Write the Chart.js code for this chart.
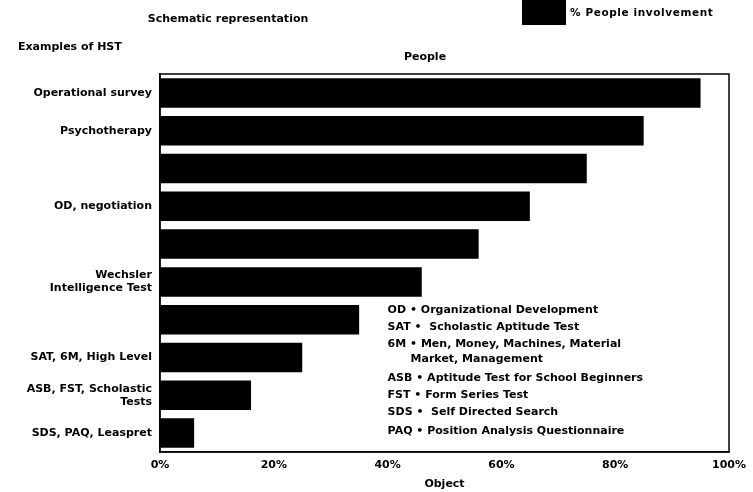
<!DOCTYPE html>
<html>
<head>
<meta charset="utf-8">
<script src="https://cdn.jsdelivr.net/npm/chart.js@4/dist/chart.umd.min.js"></script>
<style>
  html, body { margin: 0; padding: 0; background: #fff; }
  #wrap { width: 753px; height: 492px; position: relative; }
</style>
</head>
<body>
<div id="wrap"><canvas id="c" width="753" height="492"></canvas></div>
<script>
// ---- data ----
const categories = [
  "Operational survey",
  "Psychotherapy",
  "",
  "OD, negotiation",
  "",
  ["Wechsler", "Intelligence Test"],
  "",
  "SAT, 6M, High Level",
  ["ASB, FST, Scholastic", "Tests"],
  "SDS, PAQ, Leaspret"
];
const peopleInvolvement = [95, 85, 75, 65, 56, 46, 35, 25, 16, 6];
const seriesName = "% People involvement";
const xTickValues = [0, 20, 40, 60, 80, 100];
const chartTitle = "Schematic representation";
const yAxisTitle = "Examples of HST";
const topAxisTitle = "People";
const xAxisTitle = "Object";
const glossary = [
  "OD • Organizational Development",
  "SAT •  Scholastic Aptitude Test",
  "6M • Men, Money, Machines, Material",
  "      Market, Management",
  "ASB • Aptitude Test for School Beginners",
  "FST • Form Series Test",
  "SDS •  Self Directed Search",
  "PAQ • Position Analysis Questionnaire"
];

const FONT = "'DejaVu Sans', 'Liberation Sans', sans-serif";

const decor = {
  id: 'decor',
  afterDraw(chart) {
    const ctx = chart.ctx;
    const a = chart.chartArea;
    ctx.save();
    // frame
    ctx.strokeStyle = '#000';
    ctx.lineWidth = 1.5;
    ctx.strokeRect(a.left, a.top, a.right - a.left, a.bottom - a.top);
    ctx.fillStyle = '#000';
    ctx.textBaseline = 'middle';
    // title
    ctx.font = "bold 11px " + FONT;
    ctx.textAlign = 'center';
    ctx.fillText(chartTitle, 228, 19);
    // y axis heading
    ctx.textAlign = 'left';
    ctx.fillText(yAxisTitle, 18, 47);
    // top heading
    ctx.textAlign = 'center';
    ctx.fillText(topAxisTitle, 425, 57);
    // legend
    const ds = chart.data.datasets[0];
    ctx.fillStyle = ds.backgroundColor;
    ctx.fillRect(522, 0, 44, 25);
    ctx.fillStyle = '#000';
    ctx.textAlign = 'left';
    ctx.font = "bold 10.5px " + FONT;
    ctx.letterSpacing = "0.6px";
    ctx.fillText(ds.label, 570, 13);
    ctx.letterSpacing = "0px";
    // glossary
    ctx.font = "bold 11px " + FONT;
    const gx = chart.scales.x.getPixelForValue(40);
    const gy = [310, 327, 344, 359, 378, 395, 412, 431];
    glossary.forEach((t, i) => ctx.fillText(t, gx, gy[i]));
    ctx.restore();
  }
};

new Chart(document.getElementById('c'), {
  type: 'bar',
  data: {
    labels: categories,
    datasets: [{
      label: seriesName,
      data: peopleInvolvement,
      backgroundColor: '#000',
      borderWidth: 0,
      barPercentage: 0.78,
      categoryPercentage: 1.0
    }]
  },
  options: {
    indexAxis: 'y',
    responsive: false,
    animation: false,
    layout: { padding: { top: 74, right: 17, left: 0, bottom: 0 } },
    plugins: {
      legend: { display: false },
      title: { display: false },
      tooltip: { enabled: false }
    },
    scales: {
      x: {
        min: 0, max: 100,
        afterBuildTicks(scale) { scale.ticks = xTickValues.map(v => ({ value: v })); },
        grid: { display: false, drawTicks: false },
        border: { display: true, color: '#000', width: 1.5 },
        ticks: {
          color: '#000',
          font: { family: FONT, size: 11, weight: 'bold' },
          padding: 7,
          maxRotation: 0,
          callback: v => v + '%'
        },
        title: {
          display: true, text: xAxisTitle, color: '#000',
          font: { family: FONT, size: 11, weight: 'bold' },
          padding: { top: 0, bottom: 1 }
        },
        afterFit(scale) { scale.height = 40; }
      },
      y: {
        grid: { display: false, drawTicks: false },
        border: { display: true, color: '#000', width: 1.5 },
        ticks: {
          color: '#000',
          font: { family: FONT, size: 11, weight: 'bold' },
          padding: 8,
          autoSkip: false
        },
        afterFit(scale) { scale.width = 160; }
      }
    }
  },
  plugins: [decor]
});
</script>
</body>
</html>
